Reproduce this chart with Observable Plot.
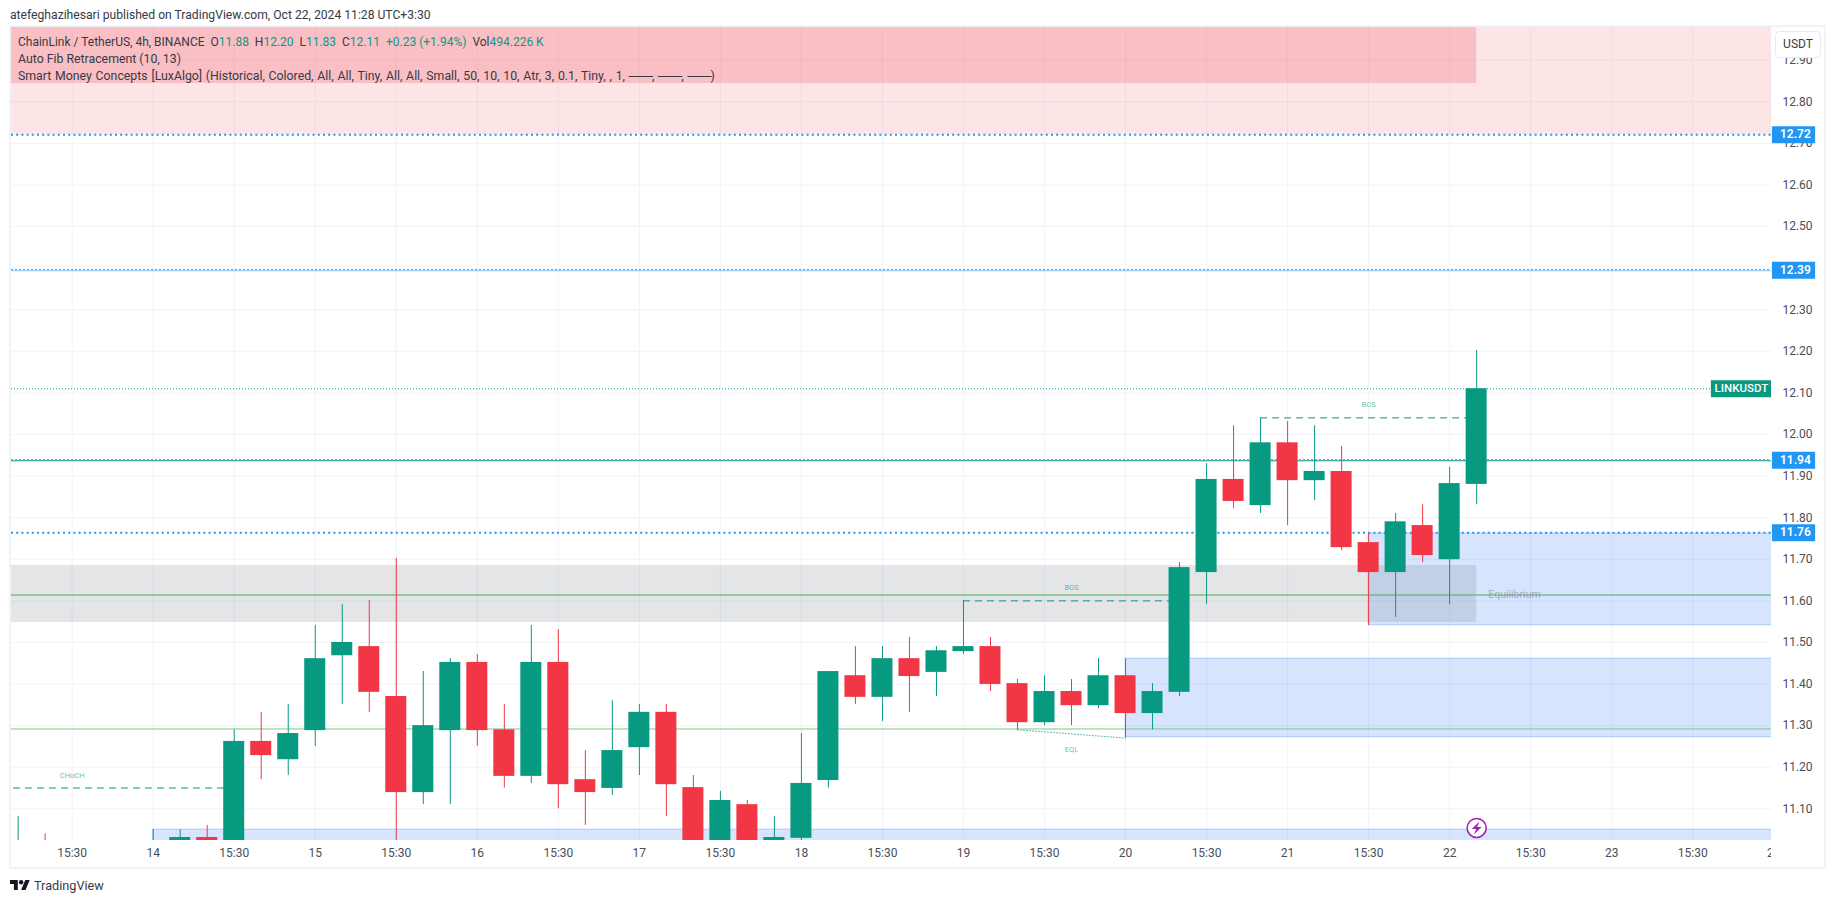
<!DOCTYPE html>
<html>
<head>
<meta charset="utf-8">
<script src="https://cdn.jsdelivr.net/npm/d3@7"></script>
<script src="https://cdn.jsdelivr.net/npm/@observablehq/plot@0.6"></script>
<style>
html,body{margin:0;padding:0;background:#fff;font-family:Roboto,"Liberation Sans",sans-serif;color:#363a45}
#root{position:relative;width:1835px;height:903px;overflow:hidden}
#head{position:absolute;left:10px;top:7px;font-size:12.15px;line-height:16px;white-space:nowrap;color:#363a45}
#chart{position:absolute;left:0;top:26px}
#chart svg{background:transparent;display:block}
#frame{position:absolute;left:9px;top:25px;width:1817px;height:844px;box-sizing:border-box;border:2px solid #f0f3fa;pointer-events:none}
#axisclip{position:absolute;left:1771px;top:841px;width:53px;height:26px;background:#fff}
.leg{position:absolute;left:18px;font-size:12.3px;line-height:16px;white-space:pre;color:#363a45}
.leg b{font-weight:400;color:#089981}
.leg i{font-style:normal;letter-spacing:-1px}
#usdt{position:absolute;left:1775px;top:31px;width:46px;height:27px;box-sizing:border-box;border:1.5px solid #e8eaf2;border-radius:5px;background:#fff;font-size:12px;line-height:24px;text-align:center;color:#363a45}
#foot{position:absolute;left:10px;top:877px;height:16px;display:flex;align-items:center;gap:4px;font-size:12.7px;color:#363a45}
</style>
</head>
<body>
<div id="root">
  <div id="head">atefeghazihesari published on TradingView.com, Oct 22, 2024 11:28 UTC+3:30</div>
  <div id="chart"></div>
  <div id="axisclip"></div>
  <div id="frame"></div>
  <div class="leg" style="top:34px;font-size:12px">ChainLink / TetherUS, 4h, BINANCE  O<b>11.88</b>  H<b>12.20</b>  L<b>11.83</b>  C<b>12.11</b>  <b>+0.23 (+1.94%)</b>  Vol<b>494.226 K</b></div>
  <div class="leg" style="top:51px">Auto Fib Retracement (10, 13)</div>
  <div class="leg" style="top:68px;word-spacing:0.72px">Smart Money Concepts [LuxAlgo] (Historical, Colored, All, All, Tiny, All, All, Small, 50, 10, 10, Atr, 3, 0.1, Tiny, , 1, <i>───</i>, <i>───</i>, <i>───</i>)</div>
  <div id="usdt">USDT</div>
  <div id="foot">
    <svg width="20" height="10" viewBox="0 4 36 18"><path fill="#131722" d="M14 22H7V11H0V4h14v18zM28 22h-8l7.5-18h8L28 22z"/><circle fill="#131722" cx="20" cy="8" r="4"/></svg>
    <span>TradingView</span>
  </div>
</div>
<script>
// candle values (candle number 0 sits on the "14" tick)
const firstCandle = -5;
const opens  = [10.98,11.00,10.97,10.96,10.95,10.99,11.01,11.031,11.00,11.262,11.218,11.288,11.468,11.49,11.37,11.139,11.288,11.452,11.29,11.178,11.452,11.17,11.149,11.247,11.332,11.151,11.00,11.11,11.00,11.029,11.168,11.42,11.368,11.461,11.428,11.478,11.49,11.401,11.307,11.382,11.348,11.42,11.329,11.38,11.668,11.892,11.829,11.98,11.889,11.911,11.74,11.668,11.781,11.699,11.88];
const highs  = [11.081,11.04,11.01,11.00,11.01,11.05,11.05,11.06,11.29,11.332,11.351,11.541,11.591,11.601,11.702,11.43,11.461,11.471,11.351,11.541,11.531,11.24,11.36,11.351,11.351,11.18,11.142,11.12,11.081,11.281,11.43,11.49,11.49,11.512,11.49,11.601,11.512,11.411,11.42,11.411,11.461,11.461,11.401,11.692,11.93,12.021,12.04,12.031,12.021,11.971,11.762,11.81,11.831,11.921,12.202];
const lows   = [10.96,10.95,10.94,10.93,10.92,10.97,10.99,10.98,10.99,11.17,11.18,11.25,11.351,11.332,11.02,11.11,11.11,11.25,11.15,11.161,11.10,11.06,11.132,11.18,11.081,10.98,10.98,10.97,10.98,11.02,11.15,11.351,11.31,11.332,11.37,11.471,11.382,11.288,11.30,11.30,11.341,11.27,11.29,11.37,11.591,11.822,11.81,11.781,11.841,11.721,11.541,11.56,11.692,11.591,11.831];
const closes = [11.00,10.97,10.96,10.95,10.99,11.01,11.031,11.00,11.262,11.228,11.281,11.461,11.50,11.38,11.139,11.30,11.452,11.288,11.178,11.452,11.158,11.139,11.24,11.332,11.158,11.00,11.12,11.00,11.031,11.161,11.43,11.368,11.461,11.418,11.48,11.49,11.399,11.307,11.382,11.348,11.42,11.329,11.382,11.68,11.892,11.839,11.98,11.889,11.911,11.728,11.668,11.79,11.709,11.882,12.11];

// horizontal levels
const priceTicks = [11.1,11.2,11.3,11.4,11.5,11.6,11.7,11.8,11.9,12.0,12.1,12.2,12.3,12.4,12.5,12.6,12.7,12.8,12.9];
const timeTicks  = [-3,0,3,6,9,12,15,18,21,24,27,30,33,36,39,42,45,48,51,54,57,60];
const timeLabels = ["15:30","14","15:30","15","15:30","16","15:30","17","15:30","18","15:30","19","15:30","20","15:30","21","15:30","22","15:30","23","15:30","24"];
const tagLevels  = [12.721,12.395,11.938,11.764];
const tagTexts   = ["12.72","12.39","11.94","11.76"];
const heavyLevels = [12.721,11.764];
const lightLevels = [12.395,11.938];
const lastPrice = 12.11;
const strongGreen = 11.614;
const softGreen = 11.292;

// zones: [first candle, last candle, top price, bottom price]
const xFar = 61, xStart = -6;
const blueZones = [[0,xFar,11.05,10.9],[36,xFar,11.461,11.272],[45,xFar,11.762,11.541]];
const paleRedZones = [[xStart,xFar,13.1,12.721]];
const deepRedZones = [[xStart,49,13.1,12.844]];
const greyZones = [[xStart,49,11.685,11.548]];

// structure breaks: [from candle, to candle, price]
const breaks = [[-5.17,3,11.15],[30,38,11.60],[41,49,12.04]];
const eqlLine = [[32,11.29],[36,11.27]];
const structureLabels = [[-3,11.179,"CHoCH"],[34,11.631,"BOS"],[45,12.071,"BOS"],[34,11.242,"EQL"]];
const equilibrium = [[50.4,11.615,"Equilibrium"]];
const lightning = [[49,11.054]];

const candles = opens.map((o,k)=>({i:firstCandle+k,o,h:highs[k],l:lows[k],c:closes[k]}));
const up = d => d.c >= d.o;
const TEAL="#089981", RED="#f23645", BLUE="#2196f3";
const candleHalf = 0.389;
const zone = (rows,opt) => Plot.rect(rows,{x1:d=>d[0],x2:d=>d[1],y1:d=>d[2],y2:d=>d[3],clip:true,...opt});
const bolt = {draw(ctx,size){const r=Math.sqrt(size/Math.PI);
  const p=[[0.28,-0.68],[-0.52,0.1],[-0.05,0.1],[-0.28,0.68],[0.52,-0.1],[0.05,-0.1]];
  p.forEach(([a,b],n)=>{n?ctx.lineTo(a*r,b*r):ctx.moveTo(a*r,b*r)});ctx.closePath();}};

const chart = Plot.plot({
  width:1835,height:842,marginLeft:11,marginRight:64,marginTop:1,marginBottom:28,
  style:{fontFamily:"Roboto, sans-serif",background:"transparent",overflow:"visible"},
  x:{domain:[-5.246,59.916],axis:null},
  y:{domain:[11.0238,12.9786],axis:null},
  marks:[
    Plot.ruleY(priceTicks,{stroke:"#f0f3fa",strokeWidth:1,clip:true}),
    Plot.ruleX(timeTicks.filter(t=>t<60),{stroke:"#f0f3fa",strokeWidth:1,clip:true}),
    zone(blueZones,{fill:"#3179f5",fillOpacity:0.2,stroke:"#3179f5",strokeOpacity:0.3}),
    zone(paleRedZones,{fill:"#f77c80",fillOpacity:0.2}),
    zone(deepRedZones,{fill:RED,fillOpacity:0.21}),
    zone(greyZones,{fill:"#787b86",fillOpacity:0.2}),
    Plot.ruleY([strongGreen],{stroke:"#4caf50",strokeWidth:1,clip:true}),
    Plot.ruleY([softGreen],{stroke:"#81c784",strokeWidth:1,clip:true}),
    Plot.ruleY(lightLevels,{y:d=>d,stroke:d=>d>12?"#90caf9":TEAL,strokeWidth:1,dy:0.5,clip:true}),
    Plot.ruleY(lightLevels,{stroke:BLUE,strokeWidth:1,strokeDasharray:"2 2",dy:-0.5,clip:true}),
    Plot.ruleY(heavyLevels,{stroke:BLUE,strokeWidth:2,strokeDasharray:"2 3.2",clip:true}),
    Plot.ruleY([lastPrice],{stroke:TEAL,strokeWidth:1,strokeDasharray:"1 2",clip:true}),
    Plot.ruleY(breaks,{x1:d=>d[0],x2:d=>d[1],y:d=>d[2],stroke:TEAL,strokeWidth:1,strokeDasharray:"7 5",clip:true}),
    Plot.line(eqlLine,{x:d=>d[0],y:d=>d[1],stroke:TEAL,strokeOpacity:0.7,strokeWidth:1,strokeDasharray:"1 2",clip:true}),
    Plot.ruleX(candles,{x:"i",y1:"l",y2:"h",stroke:d=>up(d)?TEAL:RED,strokeWidth:1,clip:true}),
    Plot.rect(candles,{x1:d=>d.i-candleHalf,x2:d=>d.i+candleHalf,y1:"o",y2:"c",fill:d=>up(d)?TEAL:RED,clip:true}),
    Plot.text(structureLabels,{x:d=>d[0],y:d=>d[1],text:d=>d[2],fontSize:7.5,fill:TEAL,fillOpacity:0.65}),
    Plot.text(equilibrium,{x:d=>d[0],y:d=>d[1],text:d=>d[2],fontSize:10.5,fill:"#787b86",fillOpacity:0.55}),
    Plot.dot(lightning,{x:d=>d[0],y:d=>d[1],r:9.5,fill:"#fff",stroke:"#9c27b0",strokeWidth:1.6}),
    Plot.dot(lightning,{x:d=>d[0],y:d=>d[1],r:9.5,symbol:bolt,fill:"#9c27b0",stroke:"none"}),
    Plot.axisX({ticks:timeTicks,tickFormat:t=>timeLabels[timeTicks.indexOf(t)],tickSize:0,tickPadding:8,fontSize:12,fill:"#4a4e59",label:null}),
    Plot.text(priceTicks,{x:60.32,y:d=>d,text:d=>d.toFixed(2),textAnchor:"start",fontSize:12,fill:"#4a4e59"}),
    Plot.ruleY(tagLevels,{x1:59.95,x2:61.55,stroke:BLUE,strokeWidth:17}),
    Plot.text(tagLevels,{x:60.8,y:d=>d,text:(d,k)=>tagTexts[k],fontSize:12,fontWeight:600,fill:"#fff"}),
    Plot.ruleY([lastPrice],{x1:57.69,x2:59.916,stroke:TEAL,strokeWidth:17}),
    Plot.text([lastPrice],{x:58.8,y:d=>d,text:()=>"LINKUSDT",fontSize:11.5,fontWeight:500,fill:"#fff"})
  ]
});
document.getElementById("chart").appendChild(chart);
</script>
</body>
</html>
